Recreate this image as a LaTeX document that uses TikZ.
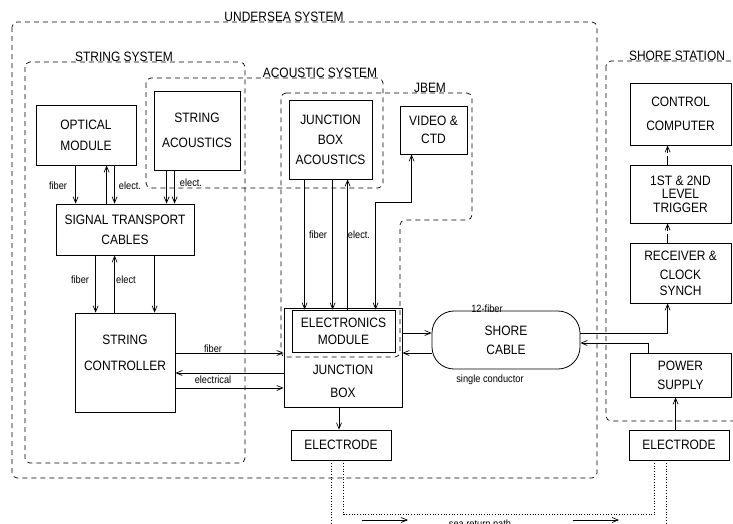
\documentclass[tikz,border=0pt]{standalone}
\usepackage{fontspec}
\setmainfont{Liberation Sans}[FakeStretch=0.88]
\usepackage{tikz}
\usetikzlibrary{arrows.meta,calc,positioning}

\tikzset{
  blk/.style={draw, line width=0.8pt, inner sep=0pt, align=center,
    font=\fontsize{13.6}{16}\selectfont},
  txt/.style={inner sep=0pt, align=center, font=\fontsize{13.6}{16}\selectfont},
  sml/.style={inner sep=0pt, font=\fontsize{10.5}{12}\selectfont},
  conn/.style={line width=0.7pt, ->},
  region/.style={line width=0.7pt, dash pattern=on 5pt off 4pt, rounded corners=5pt},
  seapath/.style={line width=0.7pt, dotted},
}

\begin{document}
\begin{tikzpicture}[x=1pt, y=-1pt, >={Straight Barb[length=6pt,width=5pt]}]
      \useasboundingbox (0,0) rectangle (733,523);
      \clip (0,0) rectangle (733,523);
      % Dashed system borders
      \draw[region] (12,22) rectangle (597,478);
      \draw[region] (25,62) rectangle (245,463);
      \draw[region] (146,78) rectangle (383,188);
      \draw[region] (281,93) -- (472,93) -- (472,220) -- (400,220) -- (400,357) -- (281,357) -- cycle;
      \draw[region] (606,61) rectangle (760,421);
      \node[txt, anchor=base] (undersea) at (284,21) {UNDERSEA SYSTEM};
      \node[txt, anchor=base] (stringsys) at (124,61) {STRING SYSTEM};
      \node[txt, anchor=base] (acoustsys) at (320,77) {ACOUSTIC SYSTEM};
      \node[txt, anchor=base] (jbem) at (430,92) {JBEM};
      \node[txt, anchor=base] (shorest) at (677,60) {SHORE STATION};
      % Undersea blocks
      \node[blk, minimum width=100, minimum height=60] (om) at (86,135) {OPTICAL\\[5pt]MODULE};
      \node[blk, minimum width=86, minimum height=79] (sa) at (197,130.5) {STRING\\[9pt]ACOUSTICS};
      \node[blk, minimum width=138, minimum height=51] (stc) at (125,229.5) {SIGNAL TRANSPORT\\[4pt]CABLES};
      \node[blk, minimum width=100, minimum height=99] (sc) at (125,362.5) {};
      \node[txt] (sctext) at ([yshift=9.5]sc.center) {STRING\\[10pt]CONTROLLER};
      \node[blk, minimum width=83, minimum height=79] (jba) at (330.5,139.5) {JUNCTION\\[4pt]BOX\\[4pt]ACOUSTICS};
      \node[blk, minimum width=67, minimum height=48] (vc) at (433.5,130) {VIDEO \&\\[2pt]CTD};
      \node[blk, minimum width=118, minimum height=99] (jb) at (343,357.5) {};
      \node[blk, minimum width=103, minimum height=42] (em) at (343.5,331) {ELECTRONICS\\[1pt]MODULE};
      \node[txt] (jbtext) at ([yshift=-24]jb.center) {JUNCTION\\[7pt]BOX};
      \node[blk, minimum width=100, minimum height=30] (ell) at (341,445) {ELECTRODE};
      \node[blk, rounded corners=22pt, minimum width=148, minimum height=58] (scab) at (506,340) {SHORE\\[3pt]CABLE};
      % Shore blocks
      \node[blk, minimum width=101, minimum height=62] (cc) at (680.5,114) {CONTROL\\[8pt]COMPUTER};
      \node[blk, minimum width=101, minimum height=58] (trig) at (680.5,194) {1ST \& 2ND\\[-2.5pt]LEVEL\\[-2.5pt]TRIGGER};
      \node[blk, minimum width=101, minimum height=60] (rcs) at (680.5,273) {RECEIVER \&\\[3pt]CLOCK\\[0pt]SYNCH};
      \node[blk, minimum width=101, minimum height=44] (ps) at (680.5,375) {POWER\\[3pt]SUPPLY};
      \node[blk, minimum width=100, minimum height=30] (elr) at (679,445) {ELECTRODE};
      % Optical module to signal transport cables
      \draw[conn] ([xshift=40]om.south west) -- ([xshift=40]om.south west |- stc.north);
      \draw[conn] ([xshift=71]om.south west |- stc.north) -- ([xshift=71]om.south west);
      \draw[conn] ([xshift=79]om.south west) -- ([xshift=79]om.south west |- stc.north);
      \node[sml] (lfib1) at (58,186) {fiber};
      \node[sml] (lel1) at (130,186) {elect.};
      \draw[conn] ([xshift=13]sa.south west) -- ([xshift=13]sa.south west |- stc.north);
      \draw[conn] ([xshift=21]sa.south west) -- ([xshift=21]sa.south west |- stc.north);
      \node[sml] (lel2) at (191,183) {elect.};
      % Signal transport cables to string controller
      \draw[conn] ([xshift=40]stc.south west) -- ([xshift=40]stc.south west |- sc.north);
      \draw[conn] ([xshift=59]stc.south west |- sc.north) -- ([xshift=59]stc.south west);
      \draw[conn] ([xshift=99]stc.south west) -- ([xshift=99]stc.south west |- sc.north);
      \node[sml] (lfib2) at (80,280) {fiber};
      \node[sml] (lel3) at (126,280) {elect};
      % String controller to junction box
      \draw[conn] ([yshift=9.5]sc.east) -- ([yshift=9.5]sc.east -| jb.west);
      \draw[conn] ([yshift=-10.5]sc.east -| jb.west) -- ([yshift=-10.5]sc.east);
      \draw[conn] ([yshift=-25.5]sc.east) -- ([yshift=-25.5]sc.east -| jb.west);
      \node[sml] (lfib3) at (213,349) {fiber};
      \node[sml] (lelc) at (213,380) {electrical};
      % Acoustics and video to electronics module
      \draw[conn] ([xshift=16]jba.south west) -- ([xshift=16]jba.south west |- em.north);
      \draw[conn] ([xshift=44]jba.south west) -- ([xshift=44]jba.south west |- em.north);
      \draw[conn] ([xshift=59]jba.south west |- em.north) -- ([xshift=59]jba.south west);
      \node[sml] (lfib4) at (318,235) {fiber};
      \node[sml] (lel4) at (359,235) {elect.};
      \draw[<->, line width=0.7pt] ([xshift=84]em.north west) -- ++(0,-107) -| ([xshift=12]vc.south west);
      % Junction box to shore cable and electrode
      \draw[conn] ([yshift=24.5]jb.east) -- ([yshift=24.5]jb.east -| scab.west);
      \draw[conn] ([yshift=4.5]jb.east -| scab.west) -- ([yshift=4.5]jb.east);
      \node[sml] (lfib5) at (487,309) {12-fiber};
      \node[sml] (lsgl) at (490,380) {single conductor};
      \draw[conn] ([xshift=-4]jb.south) -- ([xshift=-4]jb.south |- ell.north);
      % Shore station links
      \draw[conn] ([yshift=7]scab.east) -| ([xshift=38]rcs.south west);
      \draw[conn] ([xshift=19]ps.north west) |- ([yshift=-3]scab.east);
      \draw[conn, dash pattern=on 9pt off 3pt] ([xshift=38]rcs.north west) -- ([xshift=38]trig.south west);
      \draw[conn, dash pattern=on 9pt off 3pt] ([xshift=38]trig.north west) -- ([xshift=38]cc.south west);
      \draw[conn] ([xshift=47]elr.north west) -- ([xshift=47]elr.north west |- ps.south);
      % Sea return path
      \draw[seapath] ([xshift=41]ell.south west) -- ++(0,80);
      \draw[seapath] ([xshift=53]ell.south west) -- ++(0,54) -| ([xshift=26]elr.south west);
      \draw[seapath] ([xshift=38]elr.south west) -- ++(0,80);
      \coordinate (ret1) at (362,520);
      \coordinate (ret2) at (573,520);
      \draw[conn] (ret1) -- ++(46,0);
      \draw[conn] (ret2) -- ++(46,0);
      \node[sml, anchor=base] (lsea) at (480,527) {sea return path};
\end{tikzpicture}
\end{document}
